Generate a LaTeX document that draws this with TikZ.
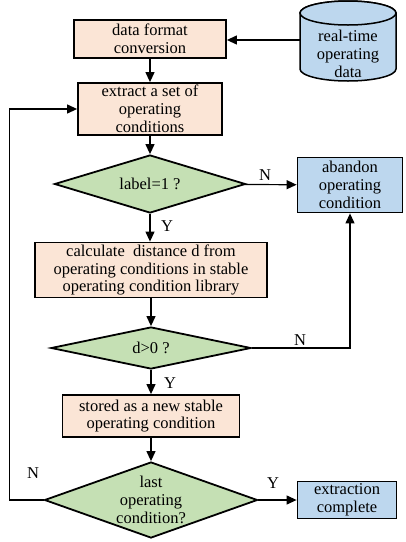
\documentclass[tikz,border=0pt]{standalone}
\usepackage{fontspec}
\setmainfont{Liberation Serif}
\usepackage{tikz}
\usetikzlibrary{shapes.geometric,arrows.meta}
\definecolor{peach}{HTML}{FBE5D6}
\definecolor{leaf}{HTML}{C5E0B4}
\definecolor{sky}{HTML}{BDD7EE}
\tikzstyle{arrow} = [line width=1.2pt,-{Triangle[length=10pt,width=9pt]}]
\tikzstyle{process} = [rectangle, draw=black, line width=1.8pt, fill=peach, align=center, inner sep=0pt,
font=\fontsize{16.5}{17.8}\selectfont]
\tikzstyle{result} = [rectangle, draw=black, line width=1.8pt, fill=sky, align=center, inner sep=0pt,
font=\fontsize{16.5}{17.8}\selectfont]
\tikzstyle{decision} = [diamond, aspect=2.8, draw=black, line width=1.8pt, fill=leaf, align=center, inner sep=0pt,
font=\fontsize{16.5}{17.8}\selectfont]
\tikzstyle{drum} = [draw=black, line width=1.5pt, fill=sky]
\tikzstyle{tag} = [font=\fontsize{16.5}{17.8}\selectfont, inner sep=0pt, align=center]

\begin{document}
\begin{tikzpicture}[x=1pt,y=1pt]
                 \useasboundingbox (0,0) rectangle (406,-542);
                 % database drum
                 \draw [drum] (300,-13) -- (300,-69) arc[start angle=180, end angle=360, x radius=48, y radius=12]
                       -- (396,-13) arc[start angle=0, end angle=180, x radius=48, y radius=12];
                 \draw [drum] (348,-13) ellipse [x radius=48, y radius=12];
                 \coordinate (srcw) at (300,-40);
                 \node (src) [tag] at (348,-54) {real-time\\operating\\data};
                 \node (conv) [process, minimum width=152pt, minimum height=38pt] at (150,-39) {data format\\conversion};
                 \node (ext) [process, minimum width=144pt, minimum height=52pt] at (150,-109) {extract a set of\\operating\\conditions};
                 \node (lab) [decision, minimum width=191pt, minimum height=58pt] at (150,-184) {label=1 ?};
                 \node (aban) [result, minimum width=105pt, minimum height=55pt] at (350,-185) {abandon\\operating\\condition};
                 \node (dist) [process, minimum width=232pt, minimum height=55pt] at (151,-270) {calculate\ \ distance d from\\operating conditions in stable\\operating condition library};
                 \node (pos) [decision, minimum width=200pt, minimum height=42pt] at (151,-348) {d>0 ?};
                 \node (new) [process, minimum width=177pt, minimum height=42pt] at (151,-416) {stored as a new stable\\operating condition};
                 \node (last) [decision, minimum width=213pt, minimum height=76pt] at (151,-500) {last\\operating\\condition?};
                 \node (done) [result, minimum width=99pt, minimum height=37pt] at (347,-500) {extraction\\complete};
                 \node (n1) [tag] at (265,-175) {N};
                 \node (y1) [tag] at (167,-226) {Y};
                 \node (n2) [tag] at (300,-340) {N};
                 \node (y2) [tag] at (170,-383) {Y};
                 \node (y3) [tag] at (273,-483) {Y};
                 \node (n3) [tag] at (33,-473) {N};
                 \draw [arrow] (srcw) -- (srcw -| conv.east);
                 \draw [arrow] (conv) -- (ext);
                 \draw [arrow] (ext) -- (lab);
                 \draw [arrow] (lab) -- (aban);
                 \draw [arrow] (lab.south) -- (lab.south |- dist.north);
                 \draw [arrow] (dist) -- (pos);
                 \draw [arrow] (pos.east) -| (aban.south);
                 \draw [arrow] (pos) -- (new);
                 \draw [arrow] (new) -- (last);
                 \draw [arrow] (last) -- (done);
                 \draw [arrow] (last.west) -- ++(-34,0) |- (ext.west);
             \end{tikzpicture}
\end{document}
